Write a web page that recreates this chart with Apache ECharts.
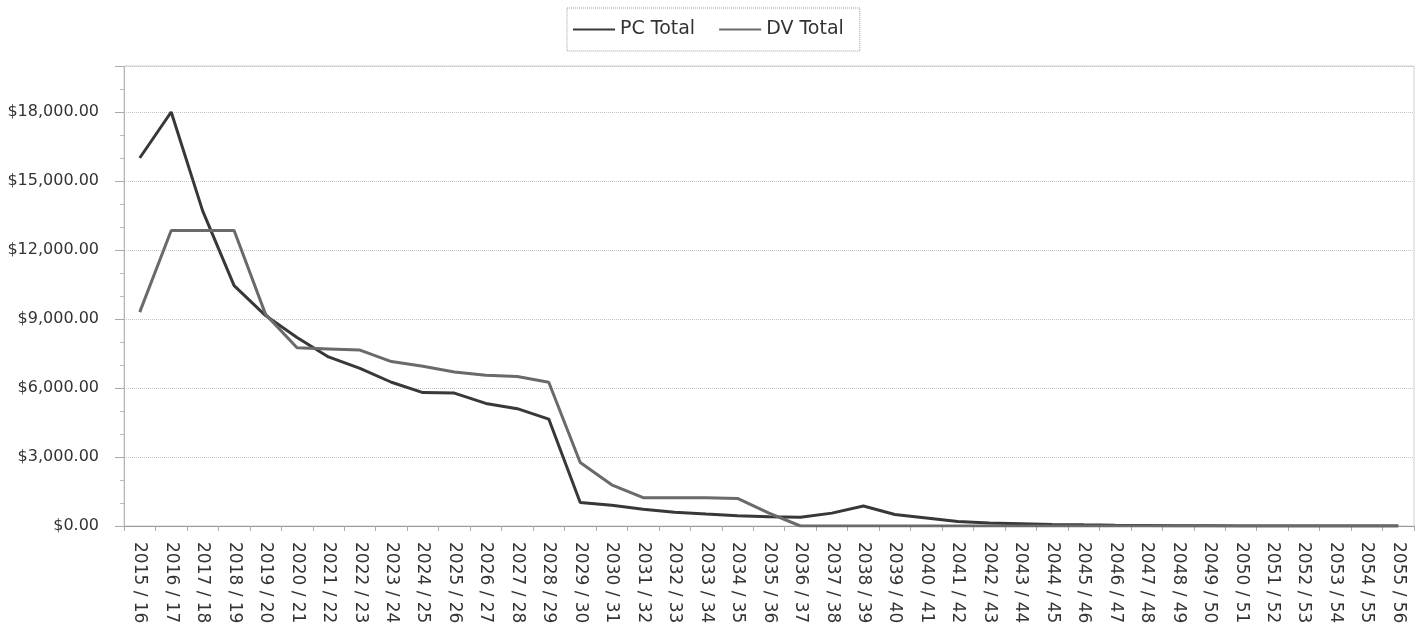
<!DOCTYPE html>
<html>
<head>
<meta charset="utf-8">
<script src="https://cdn.jsdelivr.net/npm/echarts@6/dist/echarts.min.js"></script>
<style>
  html, body { margin: 0; padding: 0; background: #fff; }
  #chart { width: 1422px; height: 632px; }
</style>
</head>
<body>
<div id="chart"></div>
<script>
const years = [
  '2015 / 16', '2016 / 17', '2017 / 18', '2018 / 19', '2019 / 20', '2020 / 21', '2021 / 22',
  '2022 / 23', '2023 / 24', '2024 / 25', '2025 / 26', '2026 / 27', '2027 / 28', '2028 / 29',
  '2029 / 30', '2030 / 31', '2031 / 32', '2032 / 33', '2033 / 34', '2034 / 35', '2035 / 36',
  '2036 / 37', '2037 / 38', '2038 / 39', '2039 / 40', '2040 / 41', '2041 / 42', '2042 / 43',
  '2043 / 44', '2044 / 45', '2045 / 46', '2046 / 47', '2047 / 48', '2048 / 49', '2049 / 50',
  '2050 / 51', '2051 / 52', '2052 / 53', '2053 / 54', '2054 / 55', '2055 / 56'
];

// darker line
const pcTotal = [
  16000, 18000, 13700, 10450, 9150, 8200, 7350, 6850, 6250, 5800, 5780, 5330, 5100, 4650,
  1020, 900, 730, 600, 520, 450, 400, 380, 560, 870, 500, 350, 200, 130,
  100, 70, 50, 35, 25, 15, 10, 5, 0, 0, 0, 0, 0
];

// lighter line
const dvTotal = [
  9300, 12850, 12850, 12850, 9200, 7750, 7700, 7650, 7150, 6950, 6700, 6550, 6500, 6250,
  2760, 1790, 1230, 1230, 1230, 1200, 560, 0, 0, 0, 0, 0, 0, 0,
  0, 0, 0, 0, 0, 0, 0, 0, 0, 0, 0, 0, 0
];

const chart = echarts.init(document.getElementById('chart'));
const font = 'DejaVu Sans, sans-serif';

chart.setOption({
  backgroundColor: '#fff',
  animation: false,
  legend: {
    top: 8,
    left: 567,
    padding: [12, 16, 12, 6],
    borderColor: '#9a9a9a',
    borderWidth: 1,
    borderType: 'dotted',
    icon: 'rect',
    itemWidth: 42,
    itemHeight: 2,
    itemGap: 24,
    textStyle: { color: '#333', fontSize: 19, fontFamily: font },
    data: ['PC Total', 'DV Total']
  },
  grid: {
    left: 124,
    right: 8,
    top: 66,
    bottom: 106,
    show: true,
    borderColor: '#d0d0d0',
    borderWidth: 1
  },
  xAxis: {
    type: 'category',
    data: years,
    boundaryGap: true,
    axisLine: { lineStyle: { color: '#999', width: 1 } },
    axisTick: { show: true, length: 5, lineStyle: { color: '#aaa' } },
    axisLabel: {
      rotate: -90,
      interval: 0,
      margin: 16,
      color: '#333',
      fontSize: 17,
      fontFamily: font
    }
  },
  yAxis: {
    type: 'value',
    min: 0,
    max: 20000,
    interval: 3000,
    axisLine: { show: true, lineStyle: { color: '#aaa', type: 'dotted' } },
    axisTick: { show: true, length: 9, lineStyle: { color: '#aaa' } },
    minorTick: { show: true, splitNumber: 3, length: 4, lineStyle: { color: '#bbb' } },
    splitLine: { show: true, lineStyle: { color: '#c4c4c4', type: 'dotted' } },
    axisLabel: {
      showMaxLabel: false,
      margin: 25,
      color: '#333',
      fontSize: 16,
      fontFamily: font,
      formatter: (v) => '$' + v.toLocaleString('en-US', { minimumFractionDigits: 2, maximumFractionDigits: 2 })
    }
  },
  series: [
    {
      name: 'PC Total',
      type: 'line',
      data: pcTotal,
      symbol: 'none',
      lineStyle: { color: '#383838', width: 3 },
      itemStyle: { color: '#383838' }
    },
    {
      name: 'DV Total',
      type: 'line',
      data: dvTotal,
      symbol: 'none',
      lineStyle: { color: '#6a6a6a', width: 3 },
      itemStyle: { color: '#6a6a6a' }
    }
  ]
});
</script>
</body>
</html>
